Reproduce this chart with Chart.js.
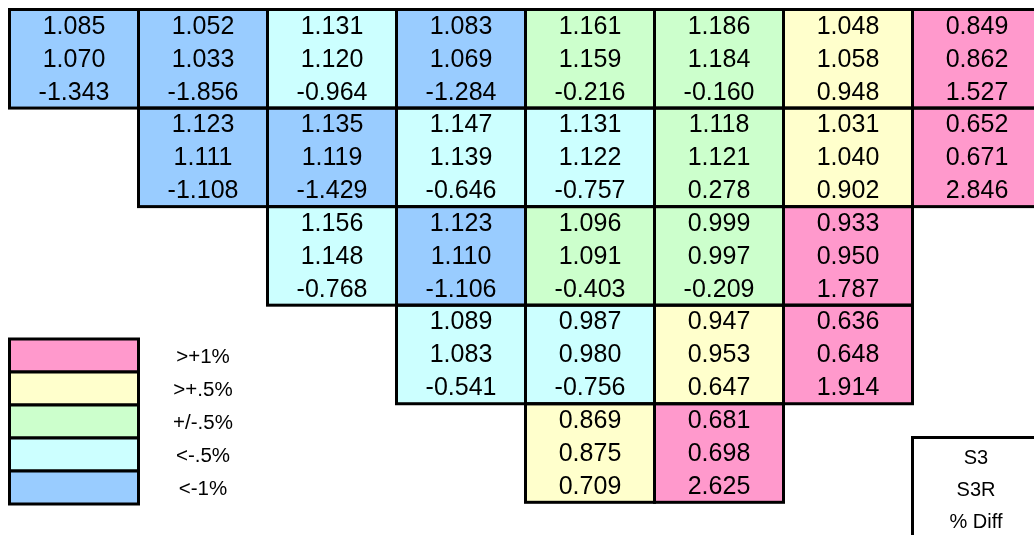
<!DOCTYPE html>
<html>
<head>
<meta charset="utf-8">
<script src="https://cdn.jsdelivr.net/npm/chart.js@4"></script>
<style>
html,body{margin:0;padding:0;background:#fff;}
#wrap{width:1034px;height:535px;position:relative;}
</style>
</head>
<body>
<div id="wrap"><canvas id="c" width="1034" height="535"></canvas></div>
<script>
// Row labels (triangle rows) and column indices
const rowLabels = ["r1", "r2", "r3", "r4", "r5"];
const columns = [0, 1, 2, 3, 4, 5, 6, 7];

// S3 values (rows x columns, null = empty cell)
const s3Values = [
  [1.085, 1.052, 1.131, 1.083, 1.161, 1.186, 1.048, 0.849],
  [null, 1.123, 1.135, 1.147, 1.131, 1.118, 1.031, 0.652],
  [null, null, 1.156, 1.123, 1.096, 0.999, 0.933, null],
  [null, null, null, 1.089, 0.987, 0.947, 0.636, null],
  [null, null, null, null, 0.869, 0.681, null, null]
];
// S3R values
const s3rValues = [
  [1.070, 1.033, 1.120, 1.069, 1.159, 1.184, 1.058, 0.862],
  [null, 1.111, 1.119, 1.139, 1.122, 1.121, 1.040, 0.671],
  [null, null, 1.148, 1.110, 1.091, 0.997, 0.950, null],
  [null, null, null, 1.083, 0.980, 0.953, 0.648, null],
  [null, null, null, null, 0.875, 0.698, null, null]
];
// % Diff values
const diffValues = [
  [-1.343, -1.856, -0.964, -1.284, -0.216, -0.160, 0.948, 1.527],
  [null, -1.108, -1.429, -0.646, -0.757, 0.278, 0.902, 2.846],
  [null, null, -0.768, -1.106, -0.403, -0.209, 1.787, null],
  [null, null, null, -0.541, -0.756, 0.647, 1.914, null],
  [null, null, null, null, 0.709, 2.625, null, null]
];

// Legend
const legendLabels = [">+1%", ">+.5%", "+/-.5%", "<-.5%", "<-1%"];
const legendColors = ["#FF99CC", "#FFFFCC", "#CCFFCC", "#CCFFFF", "#99CCFF"];
const keyLabels = ["S3", "S3R", "% Diff"];

function colorFor(d) {
  if (d == null) return "rgba(0,0,0,0)";
  if (d > 1) return legendColors[0];
  if (d > 0.5) return legendColors[1];
  if (d >= -0.5) return legendColors[2];
  if (d >= -1) return legendColors[3];
  return legendColors[4];
}

const FONT = '"Liberation Sans", Arial, sans-serif';

const datasets = columns.map(c => ({
  label: "col" + c,
  data: rowLabels.map((_, r) => s3Values[r][c] != null ? [c, c + 1] : null),
  backgroundColor: rowLabels.map((_, r) => colorFor(diffValues[r][c])),
  borderWidth: 0,
  barPercentage: 1,
  categoryPercentage: 1,
  grouped: false
}));

const cellPlugin = {
  id: "cells",
  afterDatasetsDraw(chart) {
    const ctx = chart.ctx;
    ctx.save();
    chart.data.datasets.forEach((ds, di) => {
      const meta = chart.getDatasetMeta(di);
      const c = columns[di];
      meta.data.forEach((el, r) => {
        if (s3Values[r][c] == null) return;
        const x0 = Math.min(el.base, el.x), x1 = Math.max(el.base, el.x);
        const h = el.height;
        const y0 = el.y - h / 2;
        ctx.lineWidth = 3;
        ctx.strokeStyle = "#000";
        ctx.strokeRect(x0, y0, x1 - x0, h);
        ctx.fillStyle = "#000";
        ctx.font = "25px " + FONT;
        ctx.textAlign = "center";
        ctx.textBaseline = "middle";
        const cx = (x0 + x1) / 2;
        const step = h / 3;
        ctx.fillText(s3Values[r][c].toFixed(3), cx, el.y - step + 1);
        ctx.fillText(s3rValues[r][c].toFixed(3), cx, el.y + 1);
        ctx.fillText(diffValues[r][c].toFixed(3), cx, el.y + step + 1);
      });
    });
    ctx.restore();
  },
  afterDraw(chart) {
    const ctx = chart.ctx;
    const xs = chart.scales.x;
    ctx.save();
    // Legend swatches
    const lx0 = xs.getPixelForValue(0), lx1 = xs.getPixelForValue(1);
    const top = 339, sh = 33;
    ctx.lineWidth = 3;
    ctx.strokeStyle = "#000";
    ctx.font = "20.5px " + FONT;
    ctx.textAlign = "center";
    ctx.textBaseline = "middle";
    legendLabels.forEach((lab, i) => {
      const y = top + i * sh;
      ctx.fillStyle = legendColors[i];
      ctx.fillRect(lx0, y, lx1 - lx0, sh);
      ctx.strokeRect(lx0, y, lx1 - lx0, sh);
      ctx.fillStyle = "#000";
      ctx.fillText(lab, 203, y + sh / 2 + 2);
    });
    // Key box
    const kx0 = xs.getPixelForValue(7), kx1 = xs.getPixelForValue(8);
    const ky = 437.5;
    ctx.font = "20px " + FONT;
    ctx.strokeRect(kx0, ky, kx1 - kx0, 120);
    ctx.fillStyle = "#000";
    keyLabels.forEach((lab, i) => {
      ctx.fillText(lab, (kx0 + kx1) / 2 - 1, 458 + i * 32);
    });
    ctx.restore();
  }
};

new Chart(document.getElementById("c"), {
  type: "bar",
  data: { labels: rowLabels, datasets },
  options: {
    indexAxis: "y",
    responsive: false,
    animation: false,
    devicePixelRatio: 1,
    layout: { padding: { left: 9.5, top: 9.5, right: 0, bottom: 32.7 } },
    plugins: { legend: { display: false }, tooltip: { enabled: false } },
    scales: {
      x: { type: "linear", display: false, min: 0, max: (1034 - 9.5) / 129 },
      y: { type: "category", display: false, offset: true }
    }
  },
  plugins: [cellPlugin]
});
</script>
</body>
</html>
